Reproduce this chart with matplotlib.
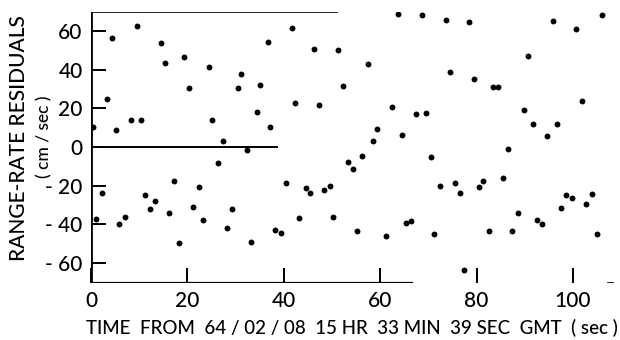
import matplotlib
matplotlib.use("Agg")
import matplotlib.pyplot as plt

# time from epoch (sec) and range-rate residual (cm/sec)
t = [0.35, 1.0, 2.3, 3.3, 4.4, 5.2, 5.8, 7.1, 8.3, 9.5, 10.3, 11.3, 12.2, 13.2,
     14.5, 15.3, 16.1, 17.3, 18.2, 19.3, 20.3, 21.2, 22.5, 23.2, 24.4, 25.2,
     26.3, 27.3, 28.2, 29.3, 30.4, 31.2, 32.4, 33.1, 34.4, 35.1, 36.7, 37.2,
     38.2, 39.4, 40.4, 41.7, 42.3, 43.2, 44.5, 45.4, 46.3, 47.4, 48.3, 49.5,
     50.3, 51.2, 52.3, 53.4, 54.4, 55.2, 56.2, 57.5, 58.5, 59.3, 61.2, 62.5,
     63.6, 64.6, 65.3, 66.3, 67.4, 68.7, 69.5, 70.5, 71.1, 72.5, 73.7, 74.4,
     75.5, 76.5, 77.4, 78.5, 79.5, 80.5, 81.3, 82.6, 83.3, 84.5, 85.4, 86.6,
     87.4, 88.6, 89.8, 90.7, 91.6, 92.5, 93.5, 94.7, 95.9, 96.7, 97.6, 98.5,
     99.7, 100.7, 101.8, 102.6, 104.0, 105.0, 106.0]
resid = [10.5, -37.3, -23.7, 24.9, 56.6, 8.8, -40.1, -36.4, 13.8, 62.5, 14.1,
         -25.0, -32.3, -28.1, 53.9, 43.5, -34.0, -17.4, -49.6, 46.8, 30.7,
         -30.9, -20.6, -37.8, 41.6, 13.8, -8.1, 2.9, -42.1, -32.3, 30.4, 37.7,
         -1.6, -49.2, 18.3, 32.1, 54.6, 10.2, -43.2, -44.4, -18.5, 61.5, 23.0,
         -36.8, -21.4, -24.0, 50.9, 21.8, -22.5, -20.2, -36.1, 50.4, 31.6,
         -7.6, -11.6, -43.7, -4.8, 43.0, 3.1, 9.5, -46.1, 20.6, 68.9, 6.0,
         -39.5, -38.3, 17.3, 68.6, 17.8, -5.4, -44.9, -20.0, 65.6, 38.9,
         -18.8, -23.8, -63.9, 64.9, 35.4, -20.9, -17.6, -43.7, 30.9, 30.9,
         -16.1, -0.9, -43.7, -34.0, 19.3, 47.0, 12.1, -37.6, -39.9, 5.5, 65.1,
         11.7, -31.6, -24.9, -26.6, 61.0, 23.7, -29.4, -24.2, -45.1, 68.6]

xticks = [0, 20, 40, 60, 80, 100]
yticks = [-60, -40, -20, 0, 20, 40, 60]
ytick_labels = ["- 60", "- 40", "- 20", "0", "20", "40", "60"]

plt.rcParams["font.family"] = ["Lato", "DejaVu Sans"]
plt.rcParams["font.weight"] = "medium"

fig = plt.figure(figsize=(6.2, 3.4), dpi=100)
ax = fig.add_axes([91 / 620, 1 - 283 / 340, 523 / 620, 271 / 340])

ax.scatter(t, resid, s=18, color="black", linewidths=0, zorder=3)

ax.set_xlim(0, 108.5)
ax.set_ylim(-70.5, 70)

for side in ["top", "right", "bottom", "left"]:
    ax.spines[side].set_visible(False)

# axis frame as drawn in the original (partial lines)
ax.axvline(0, color="black", lw=2)
ax.axhline(-70.5, xmin=0, xmax=0.613, color="black", lw=1.6)
ax.axhline(-70.5, xmin=0.988, xmax=1.0, color="black", lw=1.2)
ax.axhline(70, xmin=0, xmax=0.47, color="black", lw=1.2)
ax.axhline(0, xmin=0, xmax=0.356, color="black", lw=1.4)

ax.set_xticks(xticks)
ax.set_xticklabels([str(v) for v in xticks])
ax.set_yticks(yticks)
ax.set_yticklabels(ytick_labels)
ax.tick_params(axis="both", direction="in", length=11, width=1.4,
               labelsize=15, color="black")
ax.tick_params(axis="x", pad=6)
ax.tick_params(axis="y", pad=6)

fig.text(19 / 620, 1 - 138 / 340, "RANGE-RATE RESIDUALS", rotation=90,
         ha="center", va="center", fontsize=15)
fig.text(44 / 620, 1 - 137 / 340, "( cm / sec )", rotation=90,
         ha="center", va="center", fontsize=12.5)
fig.text(352 / 620, 1 - 328 / 340,
         "TIME  FROM  64 / 02 / 08  15 HR  33 MIN  39 SEC  GMT  ( sec )",
         ha="center", va="center", fontsize=13.5)

fig.savefig("out.png", dpi=100)
